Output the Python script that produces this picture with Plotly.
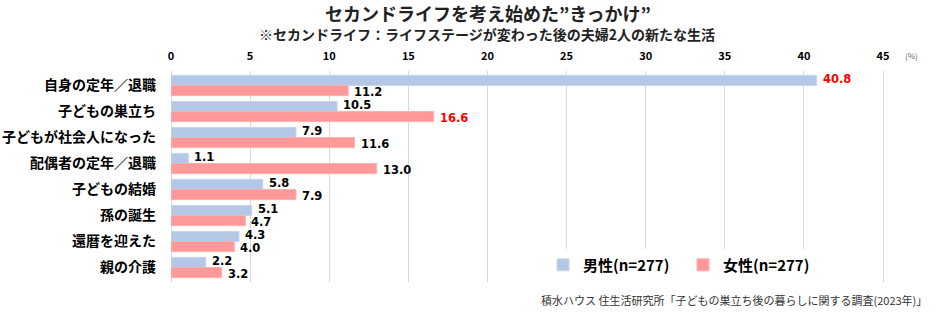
import plotly.graph_objects as go

categories = ["自身の定年／退職", "子どもの巣立ち", "子どもが社会人になった", "配偶者の定年／退職",
              "子どもの結婚", "孫の誕生", "還暦を迎えた", "親の介護"]
male = [40.8, 10.5, 7.9, 1.1, 5.8, 5.1, 4.3, 2.2]
female = [11.2, 16.6, 11.6, 13.0, 7.9, 4.7, 4.0, 3.2]
male_name = "男性(n=277)"
female_name = "女性(n=277)"
tick_vals = [0, 5, 10, 15, 20, 25, 30, 35, 40, 45]

FONT = "Noto Sans CJK JP"
LABEL_FONT = "DejaVu Sans"

def label_colors(vals):
    top = max(vals)
    return ["#ff0000" if v == top else "#000000" for v in vals]

fig = go.Figure()
fig.add_trace(go.Bar(
    y=categories, x=male, name=male_name, orientation="h",
    marker=dict(color="#b4c7e7", line=dict(color="#c9d6ee", width=1)),
))
fig.add_trace(go.Bar(
    y=categories, x=female, name=female_name, orientation="h",
    marker=dict(color="#ff9999", line=dict(color="#ffb0b0", width=1)),
))

# value labels at the end of each bar (blue label on upper bar, red on lower bar)
for vals, shift in ((male, 6.5), (female, -6.5)):
    cols = label_colors(vals)
    for cat, v, c in zip(categories, vals, cols):
        fig.add_annotation(x=v, y=cat, text=f"{v:.1f}", xref="x", yref="y",
                           xanchor="left", yanchor="middle", xshift=5, yshift=shift,
                           showarrow=False, borderpad=0,
                           font=dict(family=LABEL_FONT, size=11.5, color=c, weight="bold"))

fig.update_layout(
    width=940, height=320,
    margin=dict(l=171, r=49, t=71, b=38),
    paper_bgcolor="white", plot_bgcolor="white",
    barmode="group", bargap=0.22, bargroupgap=0.0,
    font=dict(family=FONT, color="#000000"),
    xaxis=dict(range=[0, 45.5], side="top", tickvals=tick_vals, automargin=False,
               showgrid=True, gridcolor="#d9d9d9", gridwidth=1,
               zeroline=True, zerolinecolor="#d9d9d9", zerolinewidth=1,
               tickfont=dict(family=FONT, size=11, color="#000000", weight="bold"),
               ticks="", ticklabelstandoff=8),
    yaxis=dict(autorange="reversed", showgrid=False, ticks="", automargin=False,
               tickfont=dict(family=FONT, size=14, color="#000000", weight="bold"),
               ticklabelstandoff=14),
    legend=dict(orientation="h", x=(543 - 171) / 720, y=0.08, xanchor="left", yanchor="middle",
                bgcolor="white", font=dict(family=FONT, size=15, color="#000000", weight="bold"),
                itemwidth=30, entrywidth=95),
    showlegend=True,
)

fig.add_annotation(text="セカンドライフを考え始めた”きっかけ”", xref="paper", yref="paper",
                   x=(488 - 171) / 720, y=1 + (71 - 13) / 211, xanchor="center", yanchor="middle",
                   showarrow=False, font=dict(family=FONT, size=18, color="#222", weight="bold"))
fig.add_annotation(text="※セカンドライフ：ライフステージが変わった後の夫婦2人の新たな生活", xref="paper", yref="paper",
                   x=(487 - 171) / 720, y=1 + (71 - 34) / 211, xanchor="center", yanchor="middle",
                   showarrow=False, font=dict(family=FONT, size=14, color="#222", weight="bold"))
fig.add_annotation(text="(%)", xref="paper", yref="paper",
                   x=(912 - 171) / 720, y=1 + (71 - 55) / 211, xanchor="center", yanchor="middle",
                   showarrow=False, font=dict(family=FONT, size=8, color="#666"))
fig.add_annotation(text="積水ハウス 住生活研究所「子どもの巣立ち後の暮らしに関する調査(2023年)」", xref="paper", yref="paper",
                   x=(929 - 171) / 720, y=-(300 - 282) / 211, xanchor="right", yanchor="middle",
                   showarrow=False, font=dict(family=FONT, size=11, color="#333"))

fig.write_html("out.html")
